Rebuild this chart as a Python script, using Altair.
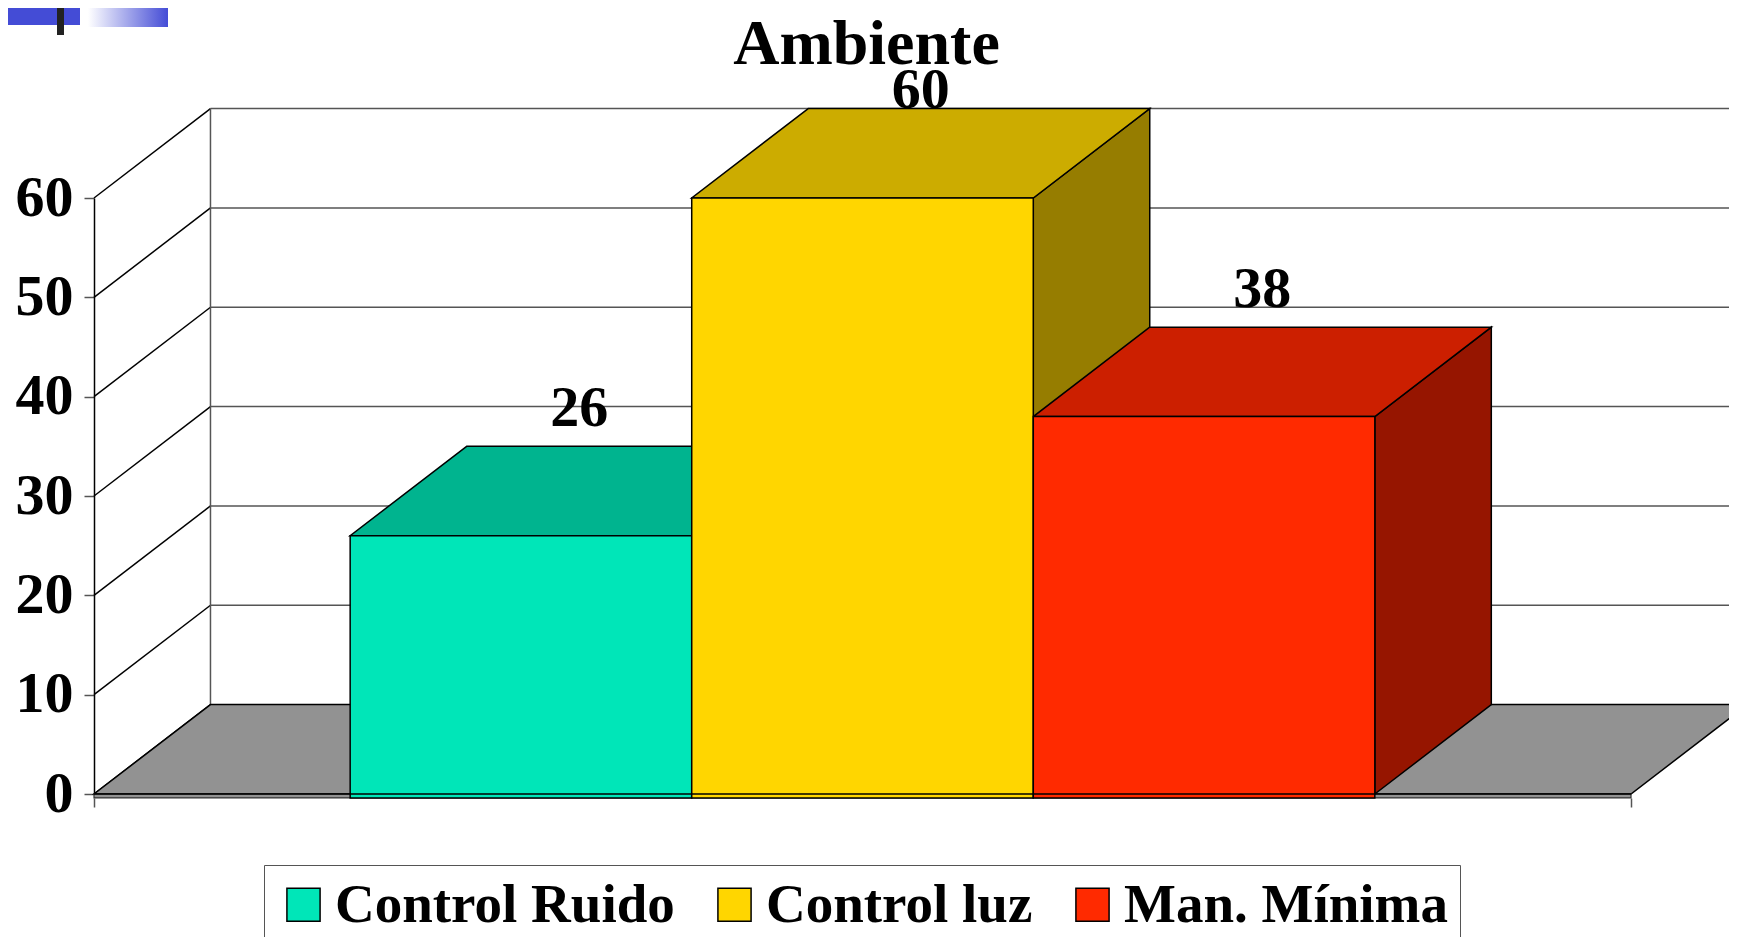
import altair as alt
import pandas as pd

# ---------------- data ----------------
title_text = "Ambiente"
categories = ["Control Ruido", "Control luz", "Man. Mínima"]
values = [26, 60, 38]
front_colors = ["#00E6B8", "#FFD600", "#FF2A00"]
top_colors = ["#00B48F", "#CCAC00", "#CC1F00"]
side_colors = ["#00806A", "#967D00", "#961500"]
y_ticks = [0, 10, 20, 30, 40, 50, 60]

# ---------------- geometry (in data units) ----------------
GAP = 0.75          # half of the 150% gap width, in bar widths
N = len(categories)
X_MAX = N + 2 * GAP  # floor length in bar widths
DX = 0.341           # depth offset along x, in bar widths
DY = 9.0             # depth offset along y, in value units
SLAB = 0.4           # floor thickness, value units
Y_MAX = y_ticks[-1]

W, H = 1537, 596

xs = alt.Scale(domain=[0, X_MAX], nice=False, zero=False)
ys = alt.Scale(domain=[0, Y_MAX], nice=False, zero=False)

XAX = alt.Axis(values=[0, X_MAX], labels=False, domain=False, ticks=True,
               tickSize=9, tickColor="#555", tickWidth=1.5, offset=4,
               grid=False, title=None)
YAX = alt.Axis(values=y_ticks, domain=True, domainColor="black", domainWidth=1.5,
               ticks=True, tickSize=10, tickColor="#555", tickWidth=1.5,
               labelFont="Liberation Serif", labelFontSize=58, labelFontWeight="bold",
               labelColor="black", labelPadding=11, grid=False, title=None)

# bars
bars = []
tops = []
sides = []
for i, (c, v) in enumerate(zip(categories, values)):
    x0 = GAP + i
    x1 = x0 + 1
    bars.append(dict(series=c, x0=x0, x1=x1, yb=-SLAB, v=v,
                     lx=(x0 + x1) / 2 + DX / 2,
                     ly=min(v + DY + 2, Y_MAX + DY + 0.05),
                     label=str(v)))
    tops.append(dict(series=c, y=v, xa=x0, xb=x1, fill=top_colors[i]))
    tops.append(dict(series=c, y=v + DY, xa=x0 + DX, xb=x1 + DX, fill=top_colors[i]))
    sides.append(dict(series=c, x=x1, ya=0, yb=v, fill=side_colors[i]))
    sides.append(dict(series=c, x=x1 + DX, ya=DY, yb=v + DY, fill=side_colors[i]))
bars_df = pd.DataFrame(bars)
tops_df = pd.DataFrame(tops)
sides_df = pd.DataFrame(sides)

floor_df = pd.DataFrame([dict(y=0, xa=0, xb=X_MAX), dict(y=DY, xa=DX, xb=X_MAX + DX)])
slab_df = pd.DataFrame([dict(xa=0, xb=X_MAX, ya=-SLAB, yb=0)])
grid_df = pd.DataFrame([dict(xa=DX, xb=X_MAX + DX + 1, y=t + DY) for t in y_ticks[1:]])
diag_df = pd.DataFrame([dict(xa=0, xb=DX, ya=t, yb=t + DY) for t in y_ticks])
backedge_df = pd.DataFrame([dict(x=DX, ya=DY, yb=Y_MAX + DY)])

LEG = alt.Legend(orient="none", legendX=170, legendY=667, direction="horizontal",
                 title=None, symbolType="square", symbolSize=1100,
                 symbolStrokeColor="black", symbolStrokeWidth=1.5, symbolOpacity=1,
                 labelFont="Liberation Serif", labelFontSize=55, labelFontWeight="bold",
                 labelColor="black", labelLimit=1000, labelOffset=4, columnPadding=32,
                 padding=12, strokeColor="#555", fillColor="white")

# ---------------- layers ----------------
back_grid = alt.Chart(grid_df).mark_rule(color="#555", strokeWidth=1.5).encode(
    x=alt.X("xa:Q", scale=xs, axis=XAX), x2="xb:Q",
    y=alt.Y("y:Q", scale=ys, axis=YAX))
diag = alt.Chart(diag_df).mark_rule(color="black", strokeWidth=1.5).encode(
    x=alt.X("xa:Q", scale=xs, axis=XAX), x2="xb:Q",
    y=alt.Y("ya:Q", scale=ys, axis=YAX), y2="yb:Q")
back_edge = alt.Chart(backedge_df).mark_rule(color="#555", strokeWidth=1.5).encode(
    x=alt.X("x:Q", scale=xs, axis=XAX),
    y=alt.Y("ya:Q", scale=ys, axis=YAX), y2="yb:Q")
floor = alt.Chart(floor_df).mark_area(orient="horizontal", fill="#929292", opacity=1,
                                      stroke="black", strokeWidth=1.5).encode(
    y=alt.Y("y:Q", scale=ys, axis=YAX, stack=None),
    x=alt.X("xa:Q", scale=xs, axis=XAX, stack=None), x2="xb:Q")
slab = alt.Chart(slab_df).mark_rect(fill="#929292", stroke="#333", strokeWidth=1.2).encode(
    x=alt.X("xa:Q", scale=xs, axis=XAX), x2="xb:Q",
    y=alt.Y("ya:Q", scale=ys, axis=YAX), y2="yb:Q")
side_faces = alt.Chart(sides_df).mark_area(orient="vertical", opacity=1,
                                           stroke="black", strokeWidth=1.5).encode(
    x=alt.X("x:Q", scale=xs, axis=XAX, stack=None),
    y=alt.Y("ya:Q", scale=ys, axis=YAX, stack=None), y2="yb:Q",
    detail="series:N", fill=alt.Fill("fill:N", scale=None))
top_faces = alt.Chart(tops_df).mark_area(orient="horizontal", opacity=1,
                                         stroke="black", strokeWidth=1.5).encode(
    y=alt.Y("y:Q", scale=ys, axis=YAX, stack=None),
    x=alt.X("xa:Q", scale=xs, axis=XAX, stack=None), x2="xb:Q",
    detail="series:N", fill=alt.Fill("fill:N", scale=None))
front_faces = alt.Chart(bars_df).mark_rect(stroke="black", strokeWidth=1.5, opacity=1).encode(
    x=alt.X("x0:Q", scale=xs, axis=XAX), x2="x1:Q",
    y=alt.Y("yb:Q", scale=ys, axis=YAX), y2="v:Q",
    color=alt.Color("series:N", scale=alt.Scale(domain=categories, range=front_colors),
                    legend=LEG))
zero_line = alt.Chart(slab_df).mark_rule(color="black", strokeWidth=1.5).encode(
    x=alt.X("xa:Q", scale=xs, axis=XAX), x2="xb:Q",
    y=alt.Y("yb:Q", scale=ys, axis=YAX))
labels = alt.Chart(bars_df).mark_text(font="Liberation Serif", fontSize=58, fontWeight="bold",
                                      color="black", baseline="alphabetic", align="center").encode(
    x=alt.X("lx:Q", scale=xs, axis=XAX),
    y=alt.Y("ly:Q", scale=ys, axis=YAX),
    text="label:N")

# chart title (as a text mark so that it sits just above the 3-D box)
title_mark = alt.Chart(alt.Data(values=[{"t": title_text}])).mark_text(
    font="Liberation Serif", fontSize=64, fontWeight="bold", color="black",
    baseline="alphabetic", align="center").encode(
    x=alt.value(W / 2 + 4), y=alt.value(-134), text="t:N")

# slide decoration (top-left corner)
deco = alt.Data(values=[{}])
deco_blue = alt.Chart(deco).mark_rect(fill="#444CD6").encode(
    x=alt.value(-91), x2=alt.value(-14), y=alt.value(-198), y2=alt.value(-173))
deco_grad = alt.Chart(deco).mark_rect(
    fill=alt.Gradient(gradient="linear",
                      stops=[alt.GradientStop(color="#FFFFFF", offset=0),
                             alt.GradientStop(color="#444CD6", offset=1)],
                      x1=0, x2=1, y1=0, y2=0)).encode(
    x=alt.value(-6), x2=alt.value(74), y=alt.value(-198), y2=alt.value(-171))
deco_bar = alt.Chart(deco).mark_rect(fill="#222222").encode(
    x=alt.value(-37), x2=alt.value(-30), y=alt.value(-198), y2=alt.value(-163))

chart = alt.layer(
    back_grid, diag, back_edge, floor, slab,
    side_faces, top_faces, front_faces, zero_line, labels, title_mark,
    deco_blue, deco_grad, deco_bar,
).properties(
    width=W, height=H,
    autosize=alt.AutoSizeParams(type="none"),
    padding={"left": 86, "top": 190, "right": 98, "bottom": 143},
    background="white",
).configure_view(stroke=None)

chart.save("out.html", embed_options={"renderer": "svg", "actions": False})
